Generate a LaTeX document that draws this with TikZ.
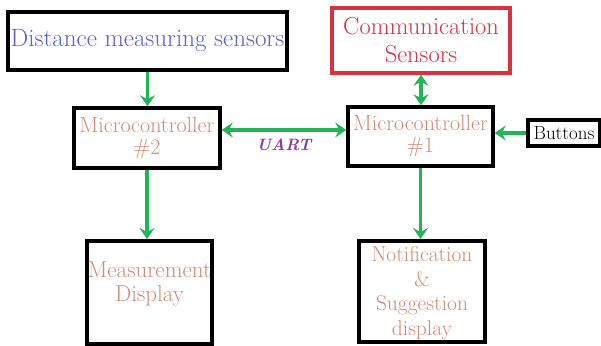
\documentclass[tikz,border=0pt]{standalone}
\usetikzlibrary{arrows.meta}

\definecolor{linkgreen}{RGB}{35,180,85}
\definecolor{sensorblue}{RGB}{95,95,205}
\definecolor{commred}{RGB}{215,50,65}
\definecolor{mcsalmon}{RGB}{205,140,120}
\definecolor{uartpurple}{RGB}{140,60,160}

\begin{document}
\begin{tikzpicture}[x=1pt,y=-1pt,
    block/.style={draw=black,line width=3.5pt,rectangle,inner sep=0pt,align=center},
    link/.style={draw=linkgreen,line width=3.5pt,-{Stealth[length=11pt,width=15pt,inset=4pt]}},
    biglink/.style={link,{Stealth[length=11pt,width=15pt,inset=4pt]}-{Stealth[length=11pt,width=15pt,inset=4pt]}}]
    \useasboundingbox (0,0) rectangle (601,345);

    % sensors on top
    \node[block,minimum width=279pt,minimum height=58pt,text=sensorblue,
          font=\fontsize{25}{28}\selectfont] (dist) at (147.5,41) {Distance measuring sensors};
    \node[block,draw=commred,minimum width=178pt,minimum height=65pt,text=commred,
          font=\fontsize{24.5}{28}\selectfont] (comm) at (421,40.5) {Communication\\Sensors};

    % the two controllers
    \node[block,minimum width=146pt,minimum height=60pt,text=mcsalmon,
          font=\fontsize{22}{22}\selectfont] (mc2) at (147,138) {Microcontroller\\\#2};
    \node[block,minimum width=145pt,minimum height=59pt,text=mcsalmon,
          font=\fontsize{22}{22}\selectfont] (mc1) at (420.5,136.5) {Microcontroller\\\#1};
    \node[block,minimum width=72pt,minimum height=26pt,
          font=\fontsize{19}{20}\selectfont] (btn) at (564,133) {Buttons};

    % displays, text sits near the top
    \node[block,anchor=north,text width=125pt,text height=37pt,text depth=66pt,text=mcsalmon,
          font=\fontsize{23}{24}\selectfont] (meas) at (149.5,239) {Measurement\\Display};
    \node[block,anchor=north,text width=126pt,text height=21pt,text depth=80pt,text=mcsalmon,
          font=\fontsize{21.5}{24.5}\selectfont] (notif) at (422,239) {Notification\\\&\\Suggestion\\display};

    \draw[link] (dist.south) -- (dist.south |- mc2.north);
    \draw[biglink] (comm.south) -- (comm.south |- mc1.north);
    \draw[biglink] ([yshift=8pt]mc2.east) -- ([yshift=8pt]mc2.east -| mc1.west)
        node[midway,below=4pt,text=uartpurple,font=\fontsize{16.5}{18}\selectfont\bfseries\itshape] (uart) {UART};
    \draw[link] (btn.west) -- (btn.west -| mc1.east);
    \draw[link] (mc2.south) -- (mc2.south |- meas.north);
    \draw[link] (mc1.south) -- (mc1.south |- notif.north);
\end{tikzpicture}
\end{document}
